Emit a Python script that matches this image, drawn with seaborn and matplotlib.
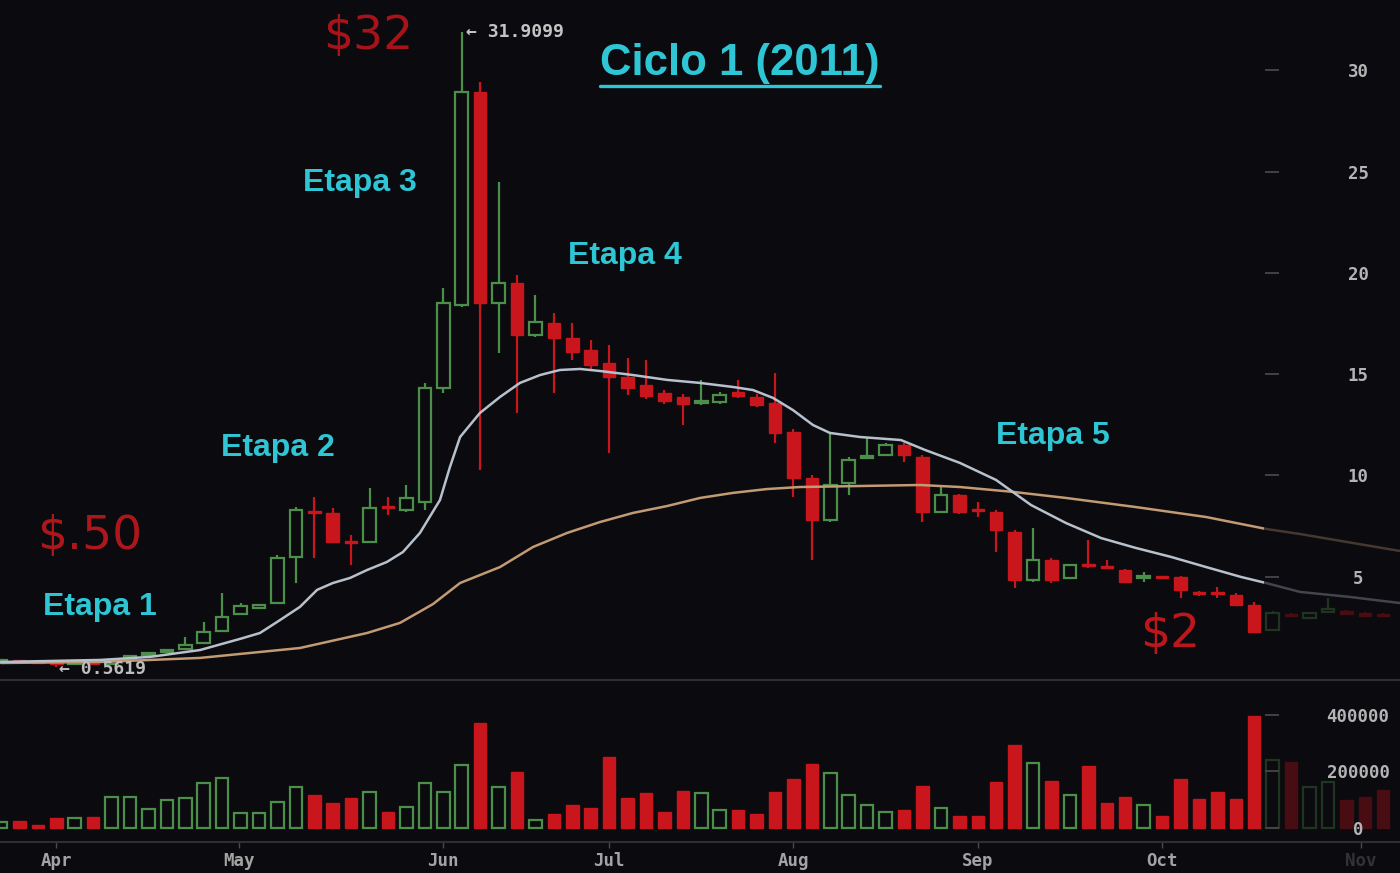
import numpy as np
import pandas as pd
import matplotlib
matplotlib.use("Agg")
import matplotlib.pyplot as plt
import seaborn as sns
from matplotlib.lines import Line2D

# ------------------------------------------------------------------ data
# 3-day candles, BTC 2011 (index 0 = start of April)
opens = [0.78, 0.82, 0.78, 0.76, 0.68, 0.74, 0.70, 0.92, 1.12, 1.28,
         1.45, 1.73, 2.32, 3.16, 3.46, 3.70, 5.98, 8.25, 8.15, 6.78,
         6.72, 8.50, 8.30, 8.69, 14.32, 18.42, 28.94, 18.52, 19.51, 16.94,
         17.53, 16.79, 16.20, 15.56, 14.86, 14.47, 14.07, 13.88, 13.58, 13.63,
         14.12, 13.88, 13.58, 12.15, 9.88, 7.80, 9.63, 10.86, 11.01, 11.51,
         10.91, 8.20, 9.04, 8.35, 8.20, 7.21, 4.84, 5.83, 4.94, 5.62,
         5.52, 5.33, 4.94, 5.02, 4.99, 4.25, 4.22, 4.10, 3.60, 2.37,
         3.15, 2.98, 3.26, 3.30, 3.20, 3.15]
closes = [0.82, 0.78, 0.76, 0.68, 0.74, 0.70, 0.86, 1.10, 1.25, 1.38,
          1.62, 2.27, 3.01, 3.55, 3.58, 5.93, 8.30, 8.15, 6.72, 6.68,
          8.40, 8.40, 8.89, 14.32, 18.52, 28.94, 18.52, 19.51, 16.94, 17.58,
          16.79, 16.10, 15.46, 14.86, 14.32, 13.93, 13.68, 13.53, 13.63, 13.98,
          13.93, 13.48, 12.10, 9.88, 7.80, 9.53, 10.77, 10.93, 11.51, 11.01,
          8.20, 9.04, 8.20, 8.25, 7.31, 4.84, 5.83, 4.84, 5.58, 5.52,
          5.45, 4.74, 5.04, 4.96, 4.35, 4.15, 4.15, 3.60, 2.27, 3.21,
          3.05, 3.20, 3.40, 3.15, 3.05, 3.05]
highs = [0.86, 0.84, 0.80, 0.80, 0.78, 0.78, 0.90, 1.15, 1.30, 1.42,
         2.02, 2.77, 4.20, 3.70, 3.62, 6.07, 8.44, 8.94, 8.40, 7.06,
         9.38, 8.94, 9.53, 14.57, 19.26, 31.9099, 29.43, 24.49, 19.90, 18.91,
         18.02, 17.53, 16.69, 16.44, 15.80, 15.70, 14.20, 14.00, 14.72, 14.10,
         14.72, 14.00, 15.06, 12.30, 10.00, 12.10, 10.91, 11.85, 11.60, 11.60,
         11.00, 9.53, 9.10, 8.69, 8.30, 7.30, 7.41, 5.90, 5.65, 6.81,
         5.83, 5.40, 5.24, 5.05, 5.05, 4.30, 4.49, 4.20, 3.75, 3.30,
         3.20, 3.25, 3.95, 3.35, 3.25, 3.20]
lows = [0.75, 0.74, 0.72, 0.5619, 0.65, 0.66, 0.68, 0.88, 1.08, 1.22,
        1.40, 1.70, 2.28, 3.10, 3.42, 3.65, 4.69, 5.93, 6.65, 5.58,
        6.65, 8.05, 8.20, 8.30, 14.07, 18.32, 10.27, 16.05, 13.09, 16.85,
        14.07, 15.70, 15.21, 11.11, 13.98, 13.80, 13.55, 12.49, 13.50, 13.55,
        13.85, 13.40, 11.60, 8.94, 5.83, 7.70, 9.04, 10.86, 10.95, 10.67,
        7.70, 8.15, 8.10, 7.95, 6.22, 4.44, 4.75, 4.69, 4.90, 5.45,
        5.38, 4.70, 4.74, 4.92, 3.95, 4.05, 3.95, 3.55, 2.20, 2.30,
        3.00, 2.95, 3.20, 3.10, 3.00, 3.00]
volumes = [22, 26, 11, 37, 34, 40, 111, 111, 66, 99,
           105, 158, 176, 54, 52, 93, 146, 117, 87, 105,
           129, 58, 76, 160, 129, 223, 370, 144, 199, 28,
           50, 81, 70, 252, 105, 123, 58, 131, 123, 64,
           64, 50, 129, 172, 227, 196, 117, 81, 58, 64,
           149, 70, 42, 42, 164, 294, 231, 168, 117, 219,
           87, 111, 81, 42, 172, 101, 129, 101, 396, 241,
           235, 146, 164, 99, 111, 135]  # thousands BTC
n_live = 69  # candles left of the price-scale overlay

# moving averages (candle index, price)
fast_ma_x = [0.0, 5.37, 8.08, 10.80, 12.97, 14.05, 15.14, 16.22, 17.15, 18.01,
             18.94, 19.86, 20.94, 21.81, 22.73, 23.82, 24.36, 24.91, 25.99, 27.08,
             28.16, 29.25, 30.33, 31.42, 32.50, 34.29, 36.14, 37.93, 39.72, 40.80,
             41.89, 42.97, 44.06, 44.98, 46.61, 48.83, 50.14, 52.03, 53.99, 55.89,
             57.79, 59.69, 61.58, 63.48, 65.38, 67.28, 68.64, 70.48, 73.20, 75.91]
fast_ma_y = [0.79, 0.89, 1.04, 1.38, 1.93, 2.22, 2.86, 3.51, 4.35, 4.69,
             4.94, 5.33, 5.73, 6.22, 7.16, 8.79, 10.42, 11.90, 13.09, 13.88,
             14.57, 14.96, 15.21, 15.26, 15.16, 14.96, 14.72, 14.57, 14.37, 14.22,
             13.83, 13.23, 12.49, 12.10, 11.90, 11.75, 11.26, 10.62, 9.78, 8.54,
             7.65, 6.91, 6.42, 5.98, 5.48, 4.99, 4.69, 4.25, 4.00, 3.70]
slow_ma_x = [0.0, 5.37, 10.80, 16.22, 19.86, 21.65, 23.44, 24.91, 27.08, 28.87,
             30.71, 32.50, 34.29, 36.14, 37.93, 39.72, 41.56, 43.35, 46.61, 49.86,
             52.03, 54.91, 57.79, 61.58, 65.38, 68.64, 70.48, 75.91]
slow_ma_y = [0.74, 0.79, 0.99, 1.48, 2.22, 2.72, 3.65, 4.69, 5.48, 6.47,
             7.16, 7.70, 8.15, 8.49, 8.89, 9.14, 9.33, 9.43, 9.48, 9.53,
             9.43, 9.19, 8.89, 8.44, 7.95, 7.36, 7.11, 6.27]

month_labels = ["Apr", "May", "Jun", "Jul", "Aug", "Sep", "Oct", "Nov"]
month_pos = [3.0, 12.9, 24.0, 33.0, 43.0, 53.0, 63.0, 73.8]
price_ticks = [5, 10, 15, 20, 25, 30]
volume_ticks = [0, 200000, 400000]

stage_labels = ["Etapa 1", "Etapa 2", "Etapa 3", "Etapa 4", "Etapa 5"]
price_callouts = ["$32", "$.50", "$2"]
title = "Ciclo 1 (2011)"

# ------------------------------------------------------------------ style
BG = "#0b0a0e"
GREEN = "#4b8f4b"
RED = "#c9161c"
CYAN = "#2ec5d5"
FAST = "#b7c1cd"
SLOW = "#c29a73"
W, H = 1400, 873

sns.set_theme(style="dark", rc={"axes.facecolor": BG, "figure.facecolor": BG,
                                "axes.grid": False, "savefig.facecolor": BG})
plt.rcParams["font.family"] = ["DejaVu Sans"]

df = pd.DataFrame(dict(open=opens, high=highs, low=lows, close=closes,
                       volume=np.array(volumes) * 1000.0))
df["i"] = np.arange(len(df))
df["up"] = df["close"] >= df["open"]
df["body_lo"] = df[["open", "close"]].min(axis=1)
df["body_h"] = (df["close"] - df["open"]).abs().clip(lower=0.09)

fig = plt.figure(figsize=(W / 100, H / 100), dpi=100)


def rect(x0, y0, x1, y1):
    return [x0 / W, 1 - y1 / H, (x1 - x0) / W, (y1 - y0) / H]


ax = fig.add_axes(rect(0, 0, W, 680))
axv = fig.add_axes(rect(0, 682, W, 842), sharex=ax)
ax.set_xlim(-0.054, 75.91)
ax.set_ylim(-0.1, 33.48)
axv.set_ylim(-49600, 516800)

up = df[df["up"]]
dn = df[~df["up"]]
BW = 0.68

# wicks
ax.vlines(up["i"], up["low"], up["high"], colors=GREEN, lw=1.6, zorder=2)
ax.vlines(dn["i"], dn["low"], dn["high"], colors=RED, lw=1.6, zorder=2)
# bodies
ax.bar(up["i"], up["body_h"], bottom=up["body_lo"], width=BW,
       facecolor=BG, edgecolor=GREEN, lw=1.6, zorder=3)
ax.bar(dn["i"], dn["body_h"], bottom=dn["body_lo"], width=BW,
       facecolor=RED, edgecolor=RED, lw=1.0, zorder=3)

# moving averages
sns.lineplot(x=slow_ma_x, y=slow_ma_y, ax=ax, color=SLOW, lw=1.8, zorder=4)
sns.lineplot(x=fast_ma_x, y=fast_ma_y, ax=ax, color=FAST, lw=1.8, zorder=4)

# volume
axv.bar(up["i"], up["volume"], width=BW, facecolor=BG, edgecolor=GREEN,
        lw=1.6, zorder=3)
axv.bar(dn["i"], dn["volume"], width=BW, facecolor=RED, edgecolor=RED,
        lw=1.0, zorder=3)

# dim overlay beneath the price scale
for a in (ax, axv):
    a.axvspan(n_live - 0.45, 80, color=BG, alpha=0.68, lw=0, zorder=6)

# extremes markers
pk = int(np.argmax(highs))
lo = int(np.argmin(lows))
ax.annotate(f"\u2190 {highs[pk]:.4f}", xy=(pk, highs[pk]), xytext=(3, 0),
            textcoords="offset points", va="center", ha="left",
            fontsize=13, fontweight="bold", family="DejaVu Sans Mono",
            color="#c4c4c4", zorder=7)
ax.annotate(f"\u2190 {lows[lo]:.4f}", xy=(lo, lows[lo]), xytext=(2, -2),
            textcoords="offset points", va="center", ha="left",
            fontsize=13, fontweight="bold", family="DejaVu Sans Mono",
            color="#bdbdbd", zorder=7)

for a in (ax, axv):
    a.set_xlabel("")
    a.set_ylabel("")
    for s in ("top", "left", "right"):
        a.spines[s].set_visible(False)
    a.spines["bottom"].set_color("#2f2f33")
    a.spines["bottom"].set_linewidth(1.5)
    a.spines["bottom"].set_zorder(8)
    a.tick_params(left=False, right=False, labelleft=False, labelright=False)
ax.tick_params(bottom=False, labelbottom=False)

axv.set_xticks(month_pos, month_labels)
axv.tick_params(axis="x", bottom=True, length=4, width=1, color="#4a4a4a",
                labelcolor="#a3a3a3", labelsize=12.5, pad=3)
for lbl in axv.get_xticklabels():
    lbl.set_fontfamily("DejaVu Sans Mono")
    lbl.set_fontweight("bold")
axv.get_xticklabels()[-1].set_color("#333336")

# price / volume scales (right side)
for host, ticks, box in ((ax, price_ticks, (0, 0, 1265, 680)),
                         (axv, volume_ticks, (0, 682, 1265, 842))):
    s = fig.add_axes(rect(*box), sharey=host)
    s.patch.set_visible(False)
    for sp in s.spines.values():
        sp.set_visible(False)
    s.set_xticks([])
    s.yaxis.tick_right()
    s.set_yticks(ticks, [str(t) for t in ticks])
    s.tick_params(axis="y", right=True, labelright=True, direction="out",
                  length=10, width=1.3, color="#46464a", labelcolor="#b4b4b4",
                  labelsize=12.5, pad=57)
    for lbl in s.get_yticklabels():
        lbl.set_fontfamily("DejaVu Sans Mono")
        lbl.set_fontweight("bold")
        lbl.set_horizontalalignment("center")

# annotations
stage_pos = [(100, 607), (278, 448), (360, 183), (625, 256), (1053, 436)]
for txt, (px, py) in zip(stage_labels, stage_pos):
    fig.text(px / W, 1 - py / H, txt, ha="center", va="center",
             fontsize=23, fontweight="bold", family="Liberation Sans",
             color=CYAN, zorder=10)

callout_pos = [(368, 37), (90, 536), (1170, 635)]
callout_col = ["#a8131a", "#ad161a", "#bd171c"]
for txt, (px, py), c in zip(price_callouts, callout_pos, callout_col):
    fig.text(px / W, 1 - py / H, txt, ha="center", va="center",
             fontsize=34, family="DejaVu Sans", color=c, zorder=10)

t = fig.text(740 / W, 1 - 64 / H, title, ha="center", va="center",
             fontsize=31.5, fontweight="bold", family="Liberation Sans",
             color=CYAN, zorder=10)
fig.canvas.draw()
bb = t.get_window_extent(fig.canvas.get_renderer())
inv = fig.transFigure.inverted()
(x0, y0), (x1, _) = inv.transform([(bb.x0, bb.y0 - 1), (bb.x1, bb.y0)])
fig.add_artist(Line2D([x0, x1], [y0, y0], transform=fig.transFigure,
                      color=CYAN, lw=2.4))

fig.savefig("out.png", dpi=100, facecolor=BG)
